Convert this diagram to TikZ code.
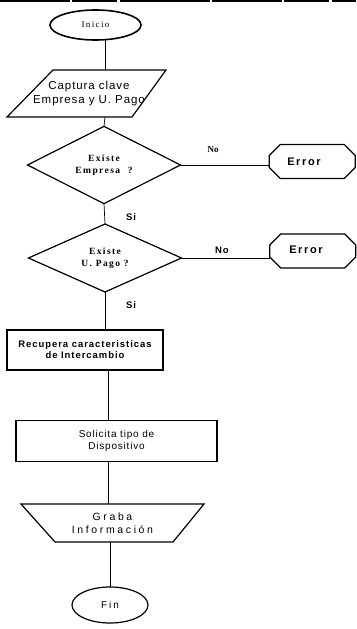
\documentclass[tikz,border=0pt]{standalone}
\usepackage{fontspec}
\setmainfont{Liberation Serif}
\setsansfont{Liberation Sans}
\usetikzlibrary{shapes.geometric}
\newcommand\tracked[1]{\addfontfeatures{LetterSpace=#1}}

\begin{document}
\begin{tikzpicture}[x=1pt,y=-1pt,
  every node/.style={inner sep=0pt, outer sep=0pt},
  shapeline/.style={draw, line width=1.2pt},
  flow/.style={line width=0.7pt},
  terminal/.style={ellipse, shapeline},
  holder/.style={rectangle, align=center},
  decision/.style={diamond, shapeline, minimum width=153pt, minimum height=68pt,
    align=center, font=\rmfamily\bfseries\fontsize{9.5}{11.5}\selectfont\tracked{15}},
  process/.style={rectangle, shapeline, align=center},
  errorframe/.style={holder, minimum width=86pt, minimum height=34pt},
  errortext/.style={font=\sffamily\bfseries\fontsize{11}{13}\selectfont\tracked{15}},
  branch/.style={font=\sffamily\bfseries\fontsize{9.5}{11}\selectfont\tracked{10}},
]
\useasboundingbox (0,0) rectangle (356,629);

% ragged rule along the top edge
\draw[line width=1.8pt, dash pattern=on 70pt off 2pt on 45pt off 3pt on 90pt off 2pt]
  (0,1) -- (356,1);

% spines for the vertical connectors
\coordinate (spineA) at (105,0);
\coordinate (spineB) at (108,0);
\coordinate (spineC) at (110,0);

% start
\node[terminal, line width=1.6pt, minimum width=91pt, minimum height=30pt,
  font=\rmfamily\fontsize{9}{11}\selectfont\tracked{15}] (inicio) at (95.5,25) {Inicio};

% input: parallelogram
\node[holder, minimum width=159pt, minimum height=47pt] (cap) at (86.5,93.5) {};
\draw[shapeline] (cap.south west) -- ([xshift=-34pt]cap.south east)
  -- (cap.north east) -- ([xshift=46pt]cap.north west) -- cycle;
\node[holder, font=\sffamily\fontsize{11.5}{13.5}\selectfont\tracked{8}] (captxt) at (89,93.5)
  {Captura clave\\Empresa y U. Pago};

% decisions
\node[decision] (d1) at (104,165) {Existe\\Empresa\ \ ?};
\node[decision] (d2) at (105,258) {Existe\\U. Pago ?};

% error exits: octagonal frames
\node[errorframe] (e1) at (312.25,161.5) {};
\node[errorframe] (e2) at (312.75,251) {};
\foreach \e in {e1,e2}
  \draw[shapeline] ([xshift=11pt]\e.north west) -- ([xshift=-11pt]\e.north east)
    -- ([yshift=-11pt]\e.north east) -- ([yshift=11pt]\e.south east)
    -- ([xshift=-11pt]\e.south east) -- ([xshift=11pt]\e.south west)
    -- ([yshift=11pt]\e.south west) -- ([yshift=-11pt]\e.north west) -- cycle;
\node[errortext] (e1txt) at (304,162) {Error};
\node[errortext] (e2txt) at (306,250) {Error};

% processes
\node[process, minimum width=156pt, minimum height=40pt,
  font=\sffamily\bfseries\fontsize{9.5}{11}\selectfont\tracked{10}] (r1) at (85,350)
  {Recupera caracteristicas\\de Intercambio};
\node[process, minimum width=201pt, minimum height=41pt,
  font=\sffamily\fontsize{10}{12}\selectfont\tracked{8}] (r2) at (116.5,441)
  {Solicita tipo de\\Dispositivo};

% manual operation: trapezoid
\node[holder, minimum width=183pt, minimum height=38pt,
  font=\sffamily\fontsize{10.5}{13}\selectfont\tracked{25}] (trap) at (112.5,523)
  {Graba\\Información};
\draw[shapeline] (trap.north west) -- (trap.north east)
  -- ([xshift=-31pt]trap.south east) -- ([xshift=34pt]trap.south west) -- cycle;

% end
\node[terminal, minimum width=76pt, minimum height=36pt,
  font=\sffamily\fontsize{10}{12}\selectfont\tracked{20}] (fin) at (110,605) {Fin};

% connectors
\draw[flow] (inicio.south -| spineA) -- (cap.north -| spineA);
\draw[flow] (cap.south -| spineA) -- (d1.north);
\draw[flow] (d1.south) -- (d2.north);
\draw[flow] (d2.south) -- (d2.south |- r1.north);
\draw[flow] (r1.south -| spineB) -- (r2.north -| spineB);
\draw[flow] (r2.south -| spineB) -- (trap.north -| spineB);
\draw[flow] (trap.south -| spineC) -- (fin.north);
\draw[flow] (d1.east) -- (d1.east -| e1.west);
\draw[flow] (d2.east) -- (d2.east -| e2.west);

% branch labels
\node[font=\rmfamily\bfseries\fontsize{9}{11}\selectfont] (no1) at (213,150) {No};
\node[branch] (no2) at (222,250) {No};
\node[branch] (si1) at (131,217) {Si};
\node[branch] (si2) at (131,305) {Si};
\end{tikzpicture}
\end{document}
